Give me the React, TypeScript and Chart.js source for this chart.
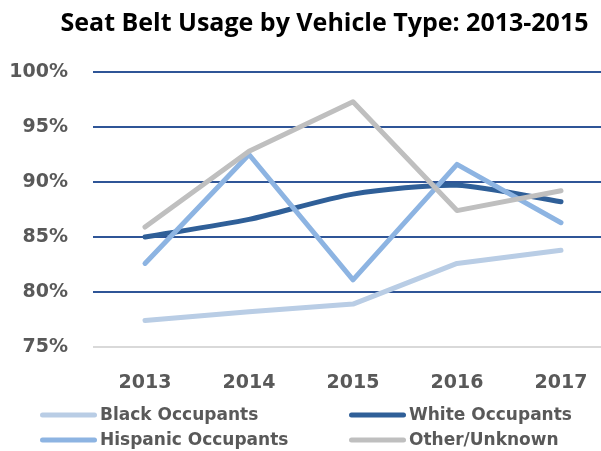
import React, { useEffect, useRef } from 'react';
import { Chart, registerables } from 'chart.js';

Chart.register(...registerables);

const TITLE = 'Seat Belt Usage by Vehicle Type: 2013-2015';
const YEARS = ['2013', '2014', '2015', '2016', '2017'];
const BLACK = [77.4, 78.2, 78.9, 82.6, 83.8];
const WHITE = [85.0, 86.6, 88.9, 89.7, 88.2];
const HISPANIC = [82.6, 92.5, 81.1, 91.6, 86.3];
const OTHER = [85.9, 92.8, 97.3, 87.4, 89.2];
const SERIES_NAMES = ['Black Occupants', 'White Occupants', 'Hispanic Occupants', 'Other/Unknown'];
const SERIES_COLORS = ['#B9CDE5', '#2F5F98', '#8DB4E2', '#BFBFBF'];
const Y_MIN = 75;
const Y_MAX = 100;
const Y_STEP = 5;

const AXIS_FONT = "'DejaVu Sans', sans-serif";
const TEXT_GRAY = '#595959';

const titlePlugin = {
  id: 'customTitle',
  afterDraw(chart: any) {
    const ctx = chart.ctx;
    ctx.save();
    ctx.font = "bold 25px 'Open Sans', sans-serif";
    ctx.fillStyle = '#000000';
    ctx.textAlign = 'center';
    ctx.textBaseline = 'middle';
    ctx.fillText(TITLE, 324.5, 24);
    ctx.restore();
  },
};

const legendPlugin = {
  id: 'gridLegend',
  afterDraw(chart: any) {
    const ctx = chart.ctx;
    const colX = [40, 349];
    const rowY = [415, 440];
    const sampleLen = 57;
    ctx.save();
    ctx.font = `bold 17px ${AXIS_FONT}`;
    ctx.textAlign = 'left';
    ctx.textBaseline = 'middle';
    chart.data.datasets.forEach((ds: any, i: number) => {
      const x = colX[i % 2];
      const y = rowY[Math.floor(i / 2)];
      ctx.strokeStyle = ds.borderColor;
      ctx.lineWidth = 5;
      ctx.lineCap = 'round';
      ctx.beginPath();
      ctx.moveTo(x + 2.5, y);
      ctx.lineTo(x + sampleLen - 2.5, y);
      ctx.stroke();
      ctx.fillStyle = TEXT_GRAY;
      ctx.fillText(ds.label, x + sampleLen + 3, y + 1);
    });
    ctx.restore();
  },
};

export default function App() {
  const canvasRef = useRef<HTMLCanvasElement | null>(null);

  useEffect(() => {
    const canvas = canvasRef.current;
    if (!canvas) return;
    const values = [BLACK, WHITE, HISPANIC, OTHER];
    const chart = new Chart(canvas, {
      type: 'line',
      data: {
        labels: YEARS,
        datasets: values.map((v, i) => ({
          label: SERIES_NAMES[i],
          data: v,
          borderColor: SERIES_COLORS[i],
          backgroundColor: SERIES_COLORS[i],
          borderWidth: 5,
          borderCapStyle: 'round',
          borderJoinStyle: 'round',
          pointRadius: 0,
          pointHoverRadius: 0,
          tension: i === 1 ? 0.25 : 0,
          fill: false,
          order: values.length - i,
        })),
      },
      options: {
        responsive: false,
        animation: false,
        events: [],
        layout: { padding: { top: 72, left: 0, right: 0, bottom: 44 } },
        plugins: {
          legend: { display: false },
          title: { display: false },
          tooltip: { enabled: false },
        },
        scales: {
          x: {
            type: 'category',
            offset: true,
            grid: { display: false, drawTicks: false },
            border: { display: false },
            ticks: {
              color: TEXT_GRAY,
              font: { family: AXIS_FONT, size: 19, weight: 'bold' },
              padding: 25,
              maxRotation: 0,
            },
            afterFit: (s: any) => {
              s.height = 60;
            },
          },
          y: {
            type: 'linear',
            min: Y_MIN,
            max: Y_MAX,
            grid: {
              drawTicks: false,
              color: (c: any) => (c.tick && c.tick.value === Y_MIN ? '#D9D9D9' : '#2F5597'),
              lineWidth: 2,
            },
            border: { display: false },
            ticks: {
              stepSize: Y_STEP,
              color: TEXT_GRAY,
              font: { family: AXIS_FONT, size: 19, weight: 'bold' },
              padding: 25,
              callback: (v: any) => `${v}%`,
            },
            afterFit: (s: any) => {
              s.width = 93;
            },
          },
        },
      },
      plugins: [titlePlugin, legendPlugin],
    } as any);
    return () => chart.destroy();
  }, []);

  return (
    <div
      style={{
        position: 'absolute',
        left: 0,
        top: 0,
        width: 601,
        height: 451,
        overflow: 'hidden',
        background: '#ffffff',
      }}
    >
      <canvas ref={canvasRef} width={613} height={451} style={{ display: 'block' }} />
    </div>
  );
}
